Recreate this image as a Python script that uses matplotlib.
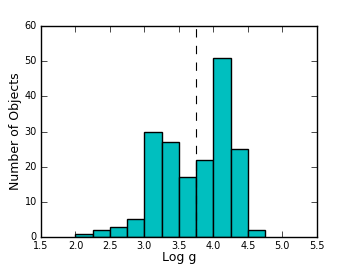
import numpy as np
import matplotlib
matplotlib.use("Agg")
import matplotlib.pyplot as plt

plt.style.use("classic")

# histogram bins of log g and counts per bin
bin_edges = [2.0, 2.25, 2.5, 2.75, 3.0, 3.25, 3.5, 3.75, 4.0, 4.25, 4.5, 4.75]
counts = [1, 2, 3, 5, 30, 27, 17, 22, 51, 25, 2]
cut_logg = 3.75

fig = plt.figure(figsize=(3.52, 2.64), dpi=100)
ax = fig.add_axes([0.1165, 0.102, 0.7835, 0.7995])

centers = np.array(bin_edges[:-1])
widths = np.diff(bin_edges)
ax.bar(centers, counts, width=widths, align="edge", color="c", edgecolor="k", linewidth=1)
ax.axvline(cut_logg, color="k", linestyle="--", linewidth=0.8)

ax.set_xlim(1.5, 5.5)
ax.set_ylim(0, 60)
ax.set_xticks(np.arange(1.5, 5.51, 0.5))
ax.set_yticks(np.arange(0, 61, 10))
ax.tick_params(labelsize=7, pad=3)
ax.set_xlabel("Log g", fontsize=9, labelpad=0)
ax.set_ylabel("Number of Objects", fontsize=9, labelpad=2)

fig.savefig("out.png", dpi=100)
